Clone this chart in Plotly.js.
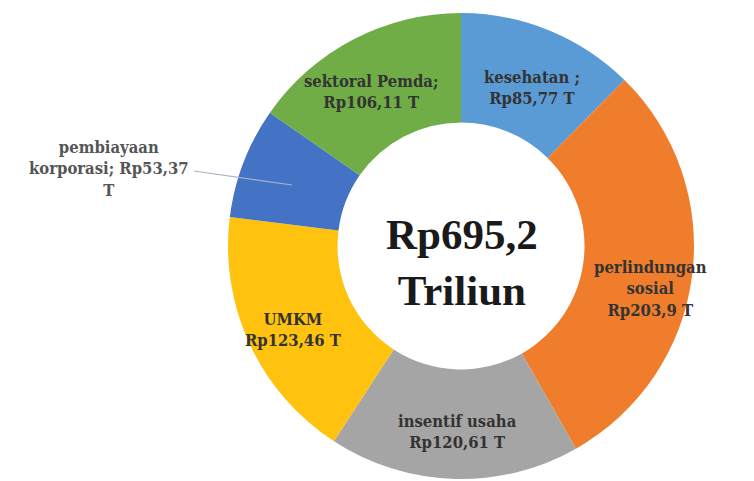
<!DOCTYPE html>
<html>
<head>
<meta charset="utf-8">
<script src="https://cdn.plot.ly/plotly-3.0.1.min.js"></script>
<style>html,body{margin:0;padding:0;background:#fff;}#chart{width:754px;height:481px;}</style>
</head>
<body>
<div id="chart"></div>
<script>
const categories = ["kesehatan", "perlindungan sosial", "insentif usaha", "UMKM", "pembiayaan korporasi", "sektoral Pemda"];
const values = [85.77, 203.9, 120.61, 123.46, 53.37, 106.11];
const labelTexts = [
  "kesehatan ;<br>Rp85,77 T",
  "perlindungan<br>sosial<br>Rp203,9 T",
  "insentif usaha<br>Rp120,61 T",
  "UMKM<br>Rp123,46 T",
  "pembiayaan<br>korporasi; Rp53,37<br>T",
  "sektoral Pemda;<br>Rp106,11 T"
];
const colors = ["#5B9BD5", "#F07D2C", "#A5A5A5", "#FFC20E", "#4472C4", "#70AD47"];
const centerText = "Rp695,2<br>Triliun";

const W = 754, H = 481;
// label anchor positions in pixels (layout only)
const labelPos = [[532, 88], [650, 289], [457, 432], [293, 330], [109, 169], [371, 92]];

const annotations = labelTexts.map((t, i) => ({
  text: "<b>" + t + "</b>", xref: "paper", yref: "paper",
  x: labelPos[i][0] / W, y: 1 - labelPos[i][1] / H,
  xanchor: "center", yanchor: "middle", showarrow: false,
  font: {family: "DejaVu Serif Condensed, DejaVu Serif", size: 16.5, color: i === 4 ? "#555555" : "#333333"}
}));
annotations.push({
  text: "<b>" + centerText + "</b>", xref: "paper", yref: "paper",
  x: 462 / W, y: 1 - 262 / H, xanchor: "center", yanchor: "middle", showarrow: false,
  font: {family: "Liberation Serif", size: 43, color: "#1a1a1a"}
});

const cx = 461, cy = 246, r = 233;
const data = [{
  type: "pie",
  labels: categories,
  values: values,
  hole: 0.53,
  sort: false,
  direction: "clockwise",
  rotation: 0,
  textinfo: "none",
  hoverinfo: "label+value",
  marker: {colors: colors, line: {width: 0}},
  domain: {x: [(cx - r) / W, (cx + r) / W], y: [(H - cy - r) / H, (H - cy + r) / H]},
  showlegend: false
}];

const layout = {
  width: W, height: H,
  margin: {l: 0, r: 0, t: 0, b: 0},
  paper_bgcolor: "#ffffff",
  showlegend: false,
  annotations: annotations,
  shapes: [{
    type: "line", xref: "paper", yref: "paper",
    x0: 194 / W, y0: 1 - 171 / H, x1: 292 / W, y1: 1 - 185 / H,
    line: {color: "#a9b4c4", width: 1.2}
  }]
};
Plotly.newPlot("chart", data, layout, {displayModeBar: false, staticPlot: true});
</script>
</body>
</html>
